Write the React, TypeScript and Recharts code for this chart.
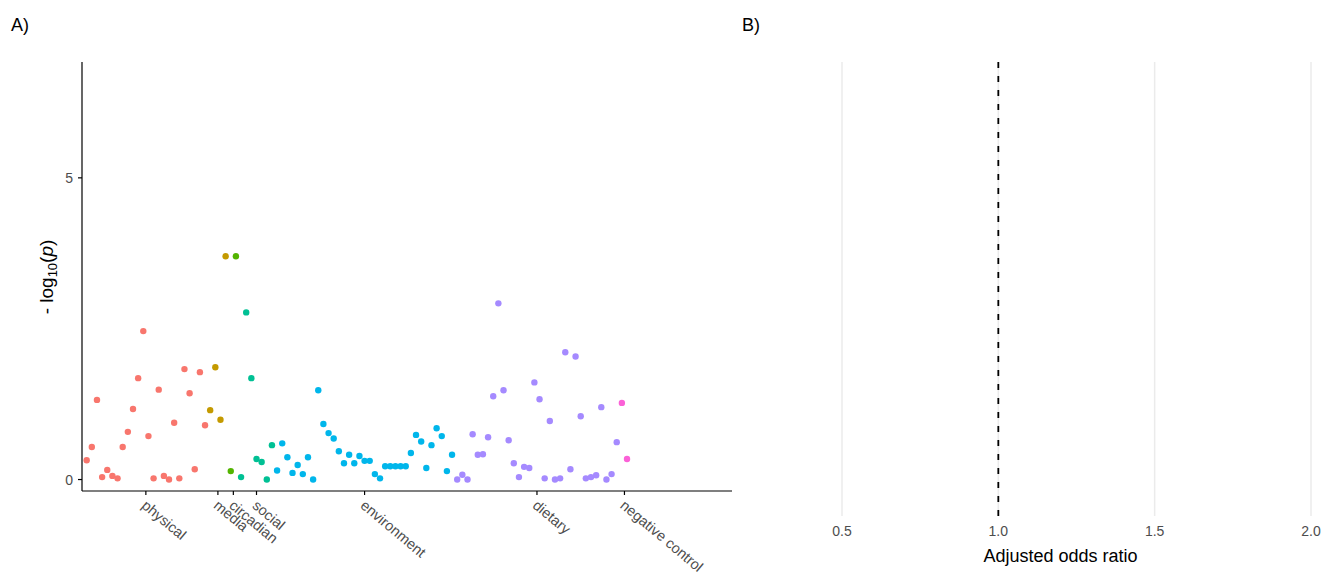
import React from "react";
import { ScatterChart, Scatter, XAxis, YAxis } from "recharts";

// ---------- data ----------
const categories = [
  "physical",
  "media",
  "circadian",
  "social",
  "environment",
  "dietary",
  "negative control",
];
const categoryColors = [
  "#F8766D",
  "#C49A00",
  "#53B400",
  "#00C094",
  "#00B6EB",
  "#A58AFF",
  "#FB61D7",
];

const physical = [
  0.32, 0.54, 1.32, 0.04, 0.16, 0.06, 0.02, 0.54, 0.79, 1.17, 1.68, 2.46, 0.72,
  0.02, 1.49, 0.06, 0.0, 0.94, 0.02, 1.83, 1.43, 0.17, 1.78, 0.9,
];
const media = [1.15, 1.86, 0.99, 3.7];
const circadian = [0.14, 3.7];
const social = [0.04, 2.77, 1.68, 0.34, 0.29, 0.0, 0.57];
const environment = [
  0.15, 0.6, 0.37, 0.11, 0.24, 0.09, 0.37, 0.0, 1.48, 0.92, 0.77, 0.68, 0.47,
  0.27, 0.41, 0.27, 0.39, 0.31, 0.31, 0.09, 0.02, 0.22, 0.22, 0.22, 0.22, 0.22,
  0.44, 0.74, 0.63, 0.19, 0.57, 0.85, 0.72, 0.14, 0.41,
];
const dietary = [
  0.0, 0.08, 0.0, 0.75, 0.41, 0.42, 0.7, 1.38, 2.92, 1.48, 0.65, 0.27, 0.04,
  0.21, 0.19, 1.61, 1.33, 0.02, 0.97, 0.0, 0.02, 2.11, 0.17, 2.04, 1.05, 0.02,
  0.04, 0.07, 1.2, 0.0, 0.09, 0.62,
];
const negativeControl = [1.27, 0.34];

const seriesValues = [
  physical,
  media,
  circadian,
  social,
  environment,
  dietary,
  negativeControl,
];

const yTicks = [0, 5];
const orTicks = [0.5, 1.0, 1.5, 2.0];
const nullOddsRatio = 1.0;

// ---------- derived ----------
type Pt = { idx: number; logp: number };
const seriesData: Pt[][] = [];
const categoryCenters: number[] = [];
{
  let k = 0;
  seriesValues.forEach((vals) => {
    const start = k;
    seriesData.push(vals.map((v) => ({ idx: k++, logp: v })));
    categoryCenters.push(start + (vals.length - 1) / 2);
  });
}
// vertical lines spanning the full panel (grid lines and the null line)
const verticalAt = (v: number) => [
  { or: v, y: 0 },
  { or: v, y: 1 },
];

const FONT = "'Liberation Sans', Arial, Helvetica, sans-serif";
const TICK_GREY = "#4D4D4D";

const CategoryTick = (props: any) => {
  const { x, y, index } = props;
  return (
    <text
      transform={`translate(${x + 1.5},${y + 2}) rotate(40)`}
      textAnchor="start"
      dy="0.71em"
      fontSize={14.5}
      fill={TICK_GREY}
      fontFamily={FONT}
    >
      {categories[index]}
    </text>
  );
};

const noShape = () => <g />;

export default function App() {
  return (
    <div
      style={{
        position: "absolute",
        left: 0,
        top: 0,
        width: 1342,
        height: 578,
        background: "#fff",
        fontFamily: FONT,
      }}
    >
      {/* Panel A */}
      <div style={{ position: "absolute", left: 0, top: 0 }}>
        <ScatterChart
          width={740}
          height={578}
          margin={{ top: 62, right: 8, bottom: 0, left: 0 }}
        >
          <XAxis
            type="number"
            dataKey="idx"
            domain={[-0.91, 125.4]}
            allowDataOverflow
            ticks={categoryCenters}
            interval={0}
            tick={<CategoryTick />}
            tickSize={4}
            height={87}
            axisLine={{ stroke: "#000", strokeWidth: 1.2 }}
            tickLine={{ stroke: "#000", strokeWidth: 1.2 }}
          />
          <YAxis
            type="number"
            dataKey="logp"
            domain={[-0.19, 6.92]}
            allowDataOverflow
            ticks={yTicks}
            width={82}
            tickSize={4}
            tickMargin={5}
            tick={{ fill: TICK_GREY, fontSize: 14, fontFamily: FONT }}
            axisLine={{ stroke: "#000", strokeWidth: 1.2 }}
            tickLine={{ stroke: "#000", strokeWidth: 1.2 }}
          />
          {seriesData.map((d, i) => (
            <Scatter
              key={categories[i]}
              name={categories[i]}
              data={d}
              isAnimationActive={false}
              shape={(p: any) => (
                <circle cx={p.cx} cy={p.cy} r={3.2} fill={categoryColors[i]} />
              )}
            />
          ))}
        </ScatterChart>
      </div>

      {/* Panel B */}
      <div style={{ position: "absolute", left: 740, top: 0 }}>
        <ScatterChart
          width={602}
          height={578}
          margin={{ top: 62, right: 9, bottom: 32, left: 48 }}
        >
          <XAxis
            type="number"
            dataKey="or"
            domain={[0.3273, 2.0704]}
            allowDataOverflow
            ticks={orTicks}
            interval={0}
            tickFormatter={(v: number) => v.toFixed(1)}
            tickSize={5}
            tickMargin={5}
            tickLine={false}
            axisLine={false}
            height={30}
            tick={{ fill: TICK_GREY, fontSize: 14, fontFamily: FONT }}
          />
          <YAxis type="number" dataKey="y" domain={[0, 1]} hide />
          {orTicks.map((t) => (
            <Scatter
              key={`grid-${t}`}
              data={verticalAt(t)}
              isAnimationActive={false}
              line={{ stroke: "#EBEBEB", strokeWidth: 1.5 }}
              shape={noShape}
            />
          ))}
          <Scatter
            data={verticalAt(nullOddsRatio)}
            isAnimationActive={false}
            line={{ stroke: "#000", strokeWidth: 1.8, strokeDasharray: "6 8" }}
            shape={noShape}
          />
        </ScatterChart>
      </div>

      {/* Overlay texts */}
      <svg
        width={1342}
        height={578}
        style={{ position: "absolute", left: 0, top: 0, pointerEvents: "none" }}
        fontFamily={FONT}
      >
        <text x={11} y={31} fontSize={18} fill="#000">
          A)
        </text>
        <text x={742} y={31} fontSize={18} fill="#000">
          B)
        </text>
        <text
          transform="translate(53,277) rotate(-90)"
          textAnchor="middle"
          fontSize={19}
          fill="#000"
        >
          - log
          <tspan fontSize={13} dy={4}>
            10
          </tspan>
          <tspan dy={-4}>(</tspan>
          <tspan fontStyle="italic">p</tspan>
          <tspan>)</tspan>
        </text>
        <text x={1060.5} y={562} textAnchor="middle" fontSize={18} fill="#000">
          Adjusted odds ratio
        </text>
      </svg>
    </div>
  );
}
